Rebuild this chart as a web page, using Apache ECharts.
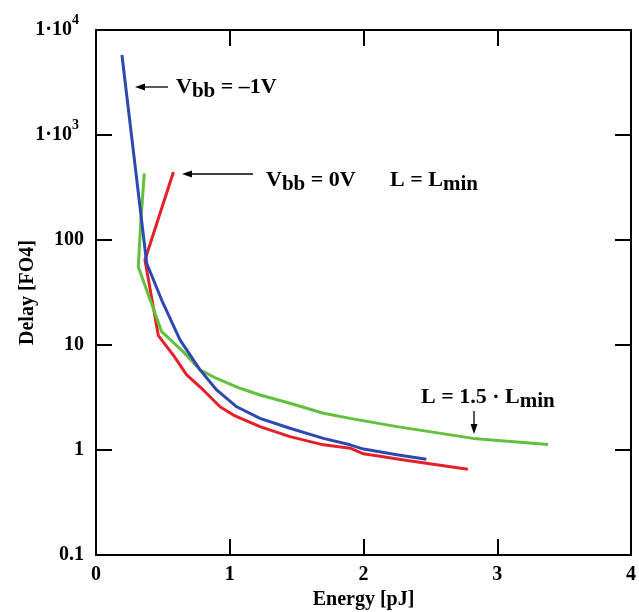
<!DOCTYPE html>
<html>
<head>
<meta charset="utf-8">
<title>Delay vs Energy</title>
<script src="https://cdn.jsdelivr.net/npm/echarts@6/dist/echarts.min.js"></script>
<style>
  html, body { margin: 0; padding: 0; background: #ffffff; }
  #chart { width: 639px; height: 612px; }
</style>
</head>
<body>
<div id="chart"></div>
<script>
// Energy [pJ] / Delay [FO4] curves
const blueEnergy = [0.194, 0.379, 0.491, 0.628, 0.778, 0.902, 1.052, 1.226, 1.45, 1.70, 1.90, 2.00, 2.25, 2.47];
const blueDelay  = [5780, 60, 26.8, 11.2, 5.8, 3.73, 2.58, 2.0, 1.61, 1.29, 1.12, 1.02, 0.90, 0.815];

const redEnergy = [0.579, 0.366, 0.466, 0.578, 0.678, 0.802, 0.927, 1.027, 1.226, 1.45, 1.70, 1.90, 2.00, 2.34, 2.78];
const redDelay  = [445, 64.5, 12.3, 8.0, 5.2, 3.73, 2.58, 2.15, 1.67, 1.34, 1.12, 1.04, 0.92, 0.79, 0.655];

const greenEnergy = [0.361, 0.336, 0.316, 0.491, 0.653, 0.778, 0.902, 1.077, 1.226, 1.45, 1.70, 1.90, 2.25, 2.82, 3.38];
const greenDelay  = [431, 155, 55.7, 13.4, 8.6, 5.8, 4.8, 3.87, 3.34, 2.79, 2.24, 2.0, 1.67, 1.29, 1.13];

// Axis ticks
const xTickValues = [0, 1, 2, 3, 4];
const yTickValues = [0.1, 1, 10, 100, 1000, 10000];
const yTickText   = ['0.1', '1', '10', '100', '1·10^3', '1·10^4'];

const SERIF = '"Liberation Serif", "Times New Roman", serif';
const zip = (xs, ys) => xs.map((x, i) => [x, ys[i]]);

function yLabel(v) {
  const e = Math.round(Math.log10(v));
  const i = yTickValues.findIndex(t => Math.round(Math.log10(t)) === e);
  if (i < 0) return '';
  const parts = yTickText[i].split('^');
  return parts.length > 1 ? '{n|' + parts[0] + '}{p|' + parts[1] + '}' : '{n|' + parts[0] + '}';
}

const axisLine = () => ({ show: true, onZero: false, lineStyle: { color: '#000', width: 2 } });
const innerTick = () => ({ show: true, inside: true, length: 16, lineStyle: { color: '#000', width: 2 } });

function arrow(x1, y1, x2, y2) {
  // shaft from (x1,y1) to the head at (x2,y2)
  const ang = Math.atan2(y2 - y1, x2 - x1);
  const L = 10, W = 3.5;
  const bx = x2 - L * Math.cos(ang), by = y2 - L * Math.sin(ang);
  const px = -Math.sin(ang) * W, py = Math.cos(ang) * W;
  return [
    { type: 'line', shape: { x1: x1, y1: y1, x2: bx, y2: by }, style: { stroke: '#000', lineWidth: 1.3 } },
    { type: 'polygon', shape: { points: [[x2, y2], [bx + px, by + py], [bx - px, by - py]] }, style: { fill: '#000' } }
  ];
}

const richText = {
  m: { fontFamily: SERIF, fontWeight: 'bold', fontSize: 22, color: '#000', verticalAlign: 'middle' },
  s: { fontFamily: SERIF, fontWeight: 'bold', fontSize: 21, color: '#000', verticalAlign: 'middle', padding: [10, 0, 0, 0] }
};

function note(x, y, text) {
  return {
    type: 'text', x: x, y: y,
    style: { text: text, rich: richText, align: 'left', verticalAlign: 'middle', font: 'bold 22px ' + SERIF, fill: '#000' }
  };
}

const chart = echarts.init(document.getElementById('chart'), null, { renderer: 'canvas' });

chart.setOption({
  backgroundColor: '#ffffff',
  animation: false,
  grid: { left: 96, right: 8, top: 30, bottom: 57, containLabel: false, outerBoundsMode: 'none' },
  xAxis: [
    {
      type: 'value', min: 0, max: 4, interval: 1, position: 'bottom',
      name: 'Energy [pJ]', nameLocation: 'middle', nameGap: 32,
      nameTextStyle: { fontFamily: SERIF, fontWeight: 'bold', fontSize: 20, color: '#000' },
      axisLine: axisLine(),
      axisTick: innerTick(),
      axisLabel: { fontFamily: SERIF, fontWeight: 'bold', fontSize: 20, color: '#000', margin: 10,
                   formatter: v => xTickValues.includes(v) ? String(v) : '' },
      splitLine: { show: false }
    },
    {
      type: 'value', min: 0, max: 4, interval: 1, position: 'top',
      axisLine: axisLine(),
      axisTick: innerTick(),
      axisLabel: { show: false },
      splitLine: { show: false }
    }
  ],
  yAxis: [
    {
      type: 'log', logBase: 10, min: 0.1, max: 10000, splitNumber: 5, position: 'left',
      name: 'Delay [FO4]', nameLocation: 'middle', nameGap: 58, nameRotate: 90, nameMoveOverlap: false,
      nameTextStyle: { fontFamily: SERIF, fontWeight: 'bold', fontSize: 20, color: '#000' },
      axisLine: axisLine(),
      axisTick: innerTick(),
      axisLabel: {
        margin: 12, formatter: yLabel,
        rich: {
          n: { fontFamily: SERIF, fontWeight: 'bold', fontSize: 20, color: '#000', verticalAlign: 'middle' },
          p: { fontFamily: SERIF, fontWeight: 'bold', fontSize: 14, color: '#000', verticalAlign: 'middle', padding: [0, 5, 20, 0] }
        }
      },
      splitLine: { show: false }
    },
    {
      type: 'log', logBase: 10, min: 0.1, max: 10000, splitNumber: 5, position: 'right',
      axisLine: axisLine(),
      axisTick: innerTick(),
      axisLabel: { show: false },
      splitLine: { show: false }
    }
  ],
  series: [
    {
      name: 'Vbb = 0V, L = Lmin', type: 'line', xAxisIndex: 0, yAxisIndex: 0,
      data: zip(redEnergy, redDelay), showSymbol: false, smooth: false,
      lineStyle: { color: '#e42129', width: 3 }, itemStyle: { color: '#e42129' }, z: 3
    },
    {
      name: 'L = 1.5 · Lmin', type: 'line', xAxisIndex: 0, yAxisIndex: 0,
      data: zip(greenEnergy, greenDelay), showSymbol: false, smooth: false,
      lineStyle: { color: '#61c03e', width: 3 }, itemStyle: { color: '#61c03e' }, z: 4
    },
    {
      name: 'Vbb = -1V', type: 'line', xAxisIndex: 0, yAxisIndex: 0,
      data: zip(blueEnergy, blueDelay), showSymbol: false, smooth: false,
      lineStyle: { color: '#2d49b0', width: 3 }, itemStyle: { color: '#2d49b0' }, z: 5
    }
  ],
  graphic: [
    ...arrow(168, 87, 135, 87),
    note(176, 87, '{m|V}{s|bb}{m| = –1V}'),
    ...arrow(253, 174, 182, 174),
    note(266, 180, '{m|V}{s|bb}{m| = 0V}'),
    note(390, 180, '{m|L = L}{s|min}'),
    ...arrow(474, 411, 474, 434),
    note(421, 397, '{m|L = 1.5 · L}{s|min}')
  ]
});
</script>
</body>
</html>
